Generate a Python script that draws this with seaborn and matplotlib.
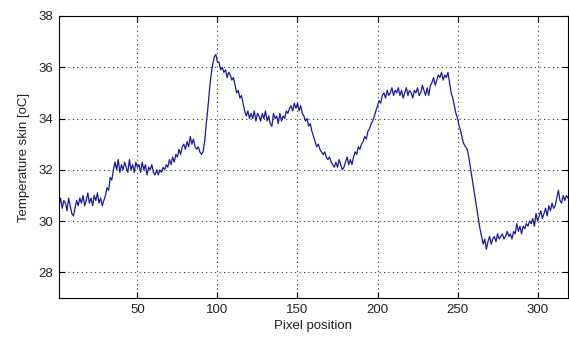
import numpy as np
import pandas as pd
import matplotlib
matplotlib.use("Agg")
import matplotlib.pyplot as plt
import seaborn as sns

# Data (temperature at each pixel position 1..319)
temperature = [
    30.6, 30.9, 30.5, 30.8, 30.7, 30.4, 30.9, 30.6, 30.3, 30.2,
    30.5, 30.8, 30.6, 30.9, 30.7, 31.0, 30.6, 30.8, 31.1, 30.7,
    30.9, 30.6, 31.0, 30.8, 31.1, 30.7, 30.9, 30.6, 30.8, 31.0,
    31.3, 31.2, 31.7, 31.6, 32.0, 32.3, 32.0, 32.4, 31.9, 32.2,
    32.0, 32.3, 32.1, 31.9, 32.4, 32.0, 32.2, 31.9, 32.3, 32.1,
    32.2, 31.9, 32.3, 32.0, 32.2, 31.8, 32.1, 32.0, 32.2, 31.9,
    31.8, 32.0, 31.8, 32.0, 31.9, 32.1, 32.0, 32.2, 32.1, 32.4,
    32.2, 32.5, 32.3, 32.6, 32.5, 32.8, 32.6, 32.9, 33.0, 32.8,
    33.1, 32.9, 33.3, 33.0, 33.2, 32.9, 32.8, 32.9, 32.7, 32.6,
    32.7, 33.1, 33.8, 34.4, 35.1, 35.7, 36.1, 36.4, 36.5, 36.2,
    36.2, 35.9, 36.0, 35.8, 35.9, 35.6, 35.8, 35.7, 35.5, 35.6,
    35.3, 35.0, 35.1, 34.8, 34.9, 34.6, 34.3, 34.1, 34.3, 34.0,
    34.2, 34.0, 34.3, 33.9, 34.2, 34.1, 33.9, 34.2, 34.0, 34.3,
    33.9, 34.1, 33.8, 33.7, 34.2, 34.0, 34.1, 33.8, 34.2, 33.9,
    34.1, 34.0, 34.3, 34.2, 34.4, 34.5, 34.3, 34.6, 34.4, 34.6,
    34.3, 34.5, 34.2, 34.1, 33.9, 34.0, 33.7, 33.8, 33.5, 33.3,
    33.1, 32.9, 33.0, 32.8, 32.7, 32.6, 32.7, 32.5, 32.4, 32.5,
    32.3, 32.2, 32.1, 32.3, 32.1, 32.4, 32.2, 32.0, 32.1, 32.3,
    32.5, 32.2, 32.4, 32.2, 32.5, 32.7, 32.6, 32.9, 32.8, 33.0,
    33.1, 33.3, 33.2, 33.5, 33.6, 33.8, 33.9, 34.1, 34.3, 34.5,
    34.7, 34.6, 34.9, 35.0, 34.8, 35.1, 34.9, 35.0, 35.2, 34.9,
    35.1, 35.0, 35.2, 34.9, 35.1, 34.8, 35.0, 35.2, 34.9, 35.1,
    35.0, 34.8, 35.1, 35.0, 35.2, 34.9, 35.0, 35.3, 35.1, 34.9,
    35.2, 34.9, 35.3, 35.4, 35.6, 35.3, 35.5, 35.7, 35.6, 35.8,
    35.5, 35.7, 35.6, 35.8, 35.4, 35.0, 34.8, 34.5, 34.2, 34.0,
    33.7, 33.5, 33.2, 33.0, 32.9, 32.8, 32.5, 32.1, 31.7, 31.3,
    30.9, 30.5, 30.1, 29.7, 29.4, 29.1, 29.3, 28.9, 29.2, 29.4,
    29.1, 29.3, 29.4, 29.2, 29.5, 29.3, 29.4, 29.5, 29.3, 29.4,
    29.6, 29.4, 29.5, 29.3, 29.6, 29.5, 29.9, 29.6, 29.8, 29.5,
    29.8, 29.7, 29.9, 29.8, 30.0, 29.9, 30.1, 29.8, 30.3, 30.0,
    30.2, 30.4, 30.1, 30.3, 30.5, 30.2, 30.6, 30.4, 30.7, 30.5,
    30.6, 30.9, 31.2, 30.8, 30.7, 31.0, 30.8, 31.0, 30.9,
]
pixel_position = list(range(1, len(temperature) + 1))

x_ticks = [50, 100, 150, 200, 250, 300]
y_ticks = [28, 30, 32, 34, 36, 38]

df = pd.DataFrame({"Pixel position": pixel_position, "Temperature": temperature})

sns.set_theme(style="white")
plt.rcParams['font.family'] = ['Liberation Sans', 'DejaVu Sans']

fig = plt.figure(figsize=(5.69, 3.42), dpi=100)
ax = fig.add_axes([59/569, 1 - 298/342, (568 - 59)/569, (298 - 16)/342])

sns.lineplot(data=df, x="Pixel position", y="Temperature", ax=ax,
             color="#1a1a99", linewidth=0.9)

ax.set_xlim(1, 319)
ax.set_ylim(27, 38)
ax.set_xticks(x_ticks)
ax.set_yticks(y_ticks)
ax.set_xticklabels([str(t) for t in x_ticks])
ax.set_yticklabels([str(t) for t in y_ticks])

ax.grid(True, color="#333333", linestyle=(0, (1, 3)), linewidth=0.8)
for s in ax.spines.values():
    s.set_visible(True)
    s.set_color("black")
    s.set_linewidth(0.8)

ax.tick_params(direction="in", length=4, width=0.8, colors="black",
               labelsize=9.5, top=True, right=True, bottom=True, left=True,
               labelcolor="#222222", pad=4)

ax.set_xlabel("Pixel position", fontsize=9.5, color="#222222", labelpad=3)
ax.set_ylabel("Temperature skin [oC]", fontsize=9.5, color="#222222", labelpad=6)

fig.savefig("out.png", dpi=100, facecolor="white")
